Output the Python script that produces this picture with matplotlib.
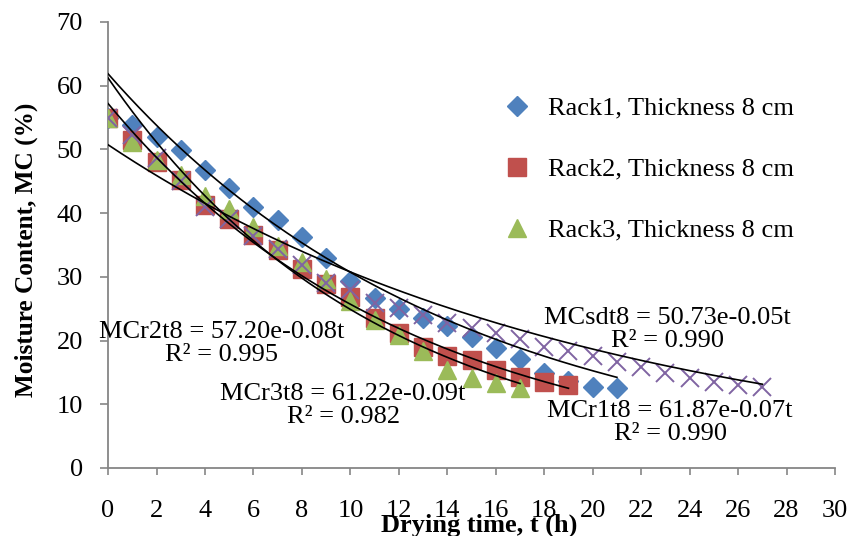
import numpy as np
import matplotlib
matplotlib.use("Agg")
import matplotlib.pyplot as plt

plt.rcParams['font.family'] = ['Liberation Serif', 'DejaVu Serif']

# ==============================
# Measured moisture content (%)
# ==============================
t_rack1 = list(range(0, 22))
mc_rack1 = [55, 53.8, 52.0, 49.9, 46.8, 43.9, 41.0, 38.9, 36.2, 33.0, 29.3,
            26.6, 24.9, 23.6, 22.3, 20.6, 18.9, 17.1, 14.9, 13.6, 12.7, 12.5]

t_rack2 = list(range(0, 20))
mc_rack2 = [55, 51.5, 48.0, 45.2, 41.3, 39.0, 36.5, 34.2, 31.2, 28.8, 26.8,
            23.6, 21.2, 19.0, 17.5, 17.0, 15.4, 14.3, 13.5, 13.0]

t_rack3 = list(range(0, 18))
mc_rack3 = [55, 51.2, 48.3, 46.0, 42.7, 40.6, 37.8, 34.8, 32.3, 29.6, 26.2,
            23.2, 20.9, 18.3, 15.3, 14.1, 13.4, 12.6]

# sun drying reference
t_sd = list(range(0, 28))
mc_sd = [55, 52.3, 48.6, 45.0, 41.0, 39.0, 36.4, 34.4, 31.8, 29.0, 27.9,
         25.9, 25.1, 24.0, 22.8, 22.0, 21.2, 20.2, 19.0, 18.4, 17.5, 16.7,
         15.9, 14.9, 14.1, 13.5, 13.0, 12.7]

# exponential fits MC = a*exp(b*t)
fit_names = ["MCr1t8", "MCr2t8", "MCr3t8", "MCsdt8"]
fit_a = [61.87, 57.20, 61.22, 50.73]
fit_b = [-0.07, -0.08, -0.09, -0.05]
fit_r2 = [0.990, 0.995, 0.982, 0.990]
fit_tmax = [21, 19, 17, 27]
# label centres (t, MC)
fit_label_pos = [(23.2, 7.1), (4.7, 19.5), (9.7, 9.8), (23.1, 21.7)]

fs = 19

fig = plt.figure(figsize=(8.48, 5.36), dpi=100)
ax = fig.add_axes([0.1274, 0.1269, 0.8573, 0.8321])

h1, = ax.plot(t_rack1, mc_rack1, 'D', color='#4F81BD', mec='#4F81BD', ms=10,
              linestyle='none', label='Rack1, Thickness 8 cm', zorder=3)
h2, = ax.plot(t_rack2, mc_rack2, 's', color='#C0504D', mec='#C0504D', ms=13.5,
              linestyle='none', label='Rack2, Thickness 8 cm', zorder=3)
h3, = ax.plot(t_rack3, mc_rack3, '^', color='#9BBB59', mec='#9BBB59', ms=13,
              linestyle='none', label='Rack3, Thickness 8 cm', zorder=3)
ax.plot(t_sd, mc_sd, 'x', color='#8064A2', ms=13, mew=1.4,
        linestyle='none', zorder=3)

for name, a, b, r2, tmax, (lx, ly) in zip(fit_names, fit_a, fit_b, fit_r2,
                                           fit_tmax, fit_label_pos):
    tt = np.linspace(0, tmax, 200)
    ax.plot(tt, a * np.exp(b * tt), color='black', lw=1.2, zorder=4)
    ax.text(lx, ly, f"{name} = {a:.2f}e{b:.2f}t\nR² = {r2:.3f}",
            ha='center', va='center', ma='center', fontsize=fs,
            linespacing=1.05, zorder=5)

ax.set_xlim(0, 30)
ax.set_ylim(0, 70)
ax.set_xticks(np.arange(0, 31, 2))
ax.set_yticks(np.arange(0, 71, 10))

for side in ['top', 'right']:
    ax.spines[side].set_visible(False)
for side in ['left', 'bottom']:
    ax.spines[side].set_color('#868686')
    ax.spines[side].set_linewidth(1.3)

ax.tick_params(axis='x', direction='out', length=5, width=1.2, color='#868686',
               labelsize=fs, pad=18)
ax.tick_params(axis='y', direction='out', length=6, width=1.2, color='#868686',
               labelsize=fs, pad=12)

ax.set_xlabel("Drying time, t (h)", fontsize=fs, fontweight='bold')
ax.xaxis.label.set_verticalalignment('center')
ax.xaxis.set_label_coords(0.51, -0.129)
ax.set_ylabel("Moisture Content, MC (%)", fontsize=18.2, fontweight='bold')
ax.yaxis.label.set_verticalalignment('center')
ax.yaxis.set_label_coords(-0.113, 0.489)

ax.legend(handles=[h1, h2, h3], loc='upper left',
          bbox_to_anchor=(0.594, 0.820), bbox_transform=fig.transFigure,
          frameon=False, fontsize=fs, numpoints=1, handlelength=1.0,
          handletextpad=0.66, labelspacing=1.42, borderpad=0,
          borderaxespad=0)

fig.savefig("out.png", dpi=100)
